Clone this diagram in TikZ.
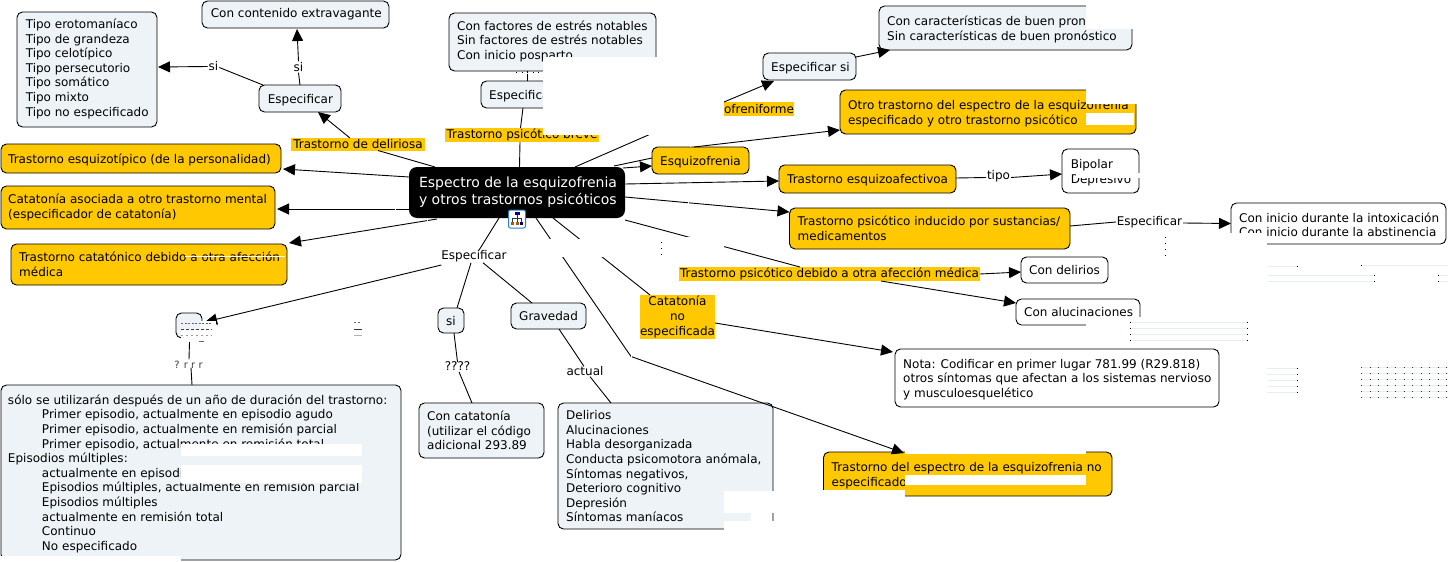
\documentclass[tikz,border=0pt]{standalone}
\usepackage{fontspec}
\setmainfont{DejaVu Sans}
\usetikzlibrary{arrows.meta}
\definecolor{pale}{HTML}{EDF3F6}
\definecolor{amber}{HTML}{FFC800}
\definecolor{faint}{HTML}{E8EEF0}
\newcommand{\maintxt}{\fontsize{12.0}{14.6}\selectfont}
\newcommand{\roottxt}{\fontsize{14.0}{17}\selectfont}
\def\padx{0.8}
\def\rz{-2.8}
% box with exact pixel corners; text starts about 8 px inside the left edge
\newcommand{\bx}[7][]{%
  \pgfmathsetmacro\bxw{#5-#3}\pgfmathsetmacro\bxh{#6-#4}\pgfmathsetmacro\bxt{\bxw-16}%
  \node[#2,anchor=north west,inner sep=0pt,outer sep=0pt,minimum width=\bxw pt,minimum height=\bxh pt] (#1) at (#3,#4)
    {\makebox[\bxt pt][l]{\hspace*{\padx pt}\raisebox{\rz pt}[0pt][0pt]{\begin{tabular}[c]{@{}l@{}}#7\end{tabular}}}};}
\newcommand{\hb}[6]{%
  \pgfmathsetmacro\bxw{#4-#2}\pgfmathsetmacro\bxh{#5-#3}%
  \node[hilite,anchor=north west,minimum width=\bxw pt,minimum height=\bxh pt] (#1) at (#2,#3) {#6};}
\newcommand{\ww}[4]{\fill[white] (#1,#2) rectangle (#3,#4);}
\tikzset{
  roundbox/.style={draw=black,line width=0.9pt,rounded corners=5.5pt},
  palebox/.style={roundbox,fill=pale},
  amberbox/.style={roundbox,fill=amber},
  whitebox/.style={roundbox,fill=white},
  rootbox/.style={rounded corners=8pt,fill=black,text=white,font=\roottxt},
  hilite/.style={fill=amber,inner sep=0pt,outer sep=0pt,align=center},
  onlink/.style={inner sep=0pt,outer sep=0pt},
  link/.style={line width=0.9pt,black},
  arr/.style={link,-{Triangle[length=12pt,width=11pt]}},
  every node/.style={font=\maintxt},
  tick/.style={white,line width=1pt},
  ghost/.style={faint,line width=0.9pt},
  speck/.style={black,line width=0.9pt,dash pattern=on 0.9pt off 5.1pt}
}
\begin{document}
\begin{tikzpicture}[x=1pt,y=-1pt]
\useasboundingbox (0,0) rectangle (1449,562);
\fill[white] (0,0) rectangle (1449,562);

% ---------- nodes
\bx[tipos]{palebox}{17}{12}{157}{127}{Tipo erotomaníaco\\Tipo de grandeza\\Tipo celotípico\\Tipo persecutorio\\Tipo somático\\Tipo mixto\\Tipo no especificado}
\bx[ext]{palebox}{202}{1}{389}{28}{Con contenido extravagante}
\def\rz{-4.8}
\bx[espL]{palebox}{259}{85}{341}{112}{Especificar}
\def\padx{-0.8}
\bx[zt]{amberbox}{1}{144}{281}{173}{Trastorno esquizotípico (de la personalidad)}
\def\rz{-3.8}
\bx[catA]{amberbox}{1}{186}{275}{229}{Catatonía asociada a otro trastorno mental\\(especificador de catatonía)}
\def\rz{-4.8}
\def\padx{0.2}
\bx[catB]{amberbox}{11}{244}{287}{285}{Trastorno catatónico debido a otra afección\\médica}
\def\padx{2}
\def\rz{-3.5}
\bx[root]{rootbox}{409}{167}{625}{218}{\textcolor{white}{Espectro de la esquizofrenia}\\\textcolor{white}{y otros trastornos psicóticos}}
\def\rz{-2.8}
\def\padx{0.2}
\bx[cfac]{palebox}{449}{13}{656}{71}{Con factores de estrés notables\\Sin factores de estrés notables\\Con inicio posparto}
\def\rz{-4.8}
\bx[espM]{palebox}{481}{81}{563}{108}{Especificar}
\bx[espSi]{palebox}{763}{53}{856}{80}{Especificar si}
\bx[ccar]{palebox}{879}{6}{1132}{50}{Con características de buen pron\\Sin características de buen pronóstico}
\bx[otro]{amberbox}{840}{90}{1136}{134}{Otro trastorno del espectro de la esquizofrenia\\especificado y otro trastorno psicótico}
\bx[esq]{amberbox}{652}{147}{749}{174}{Esquizofrenia}
\bx[afec]{amberbox}{779}{165}{956}{193}{Trastorno esquizoafectivoa}
\def\padx{0.8}
\bx[bip]{whitebox}{1062}{149}{1139}{193}{Bipolar\\Depresivo}
\def\padx{0.2}
\bx[ind]{amberbox}{789.5}{208}{1070}{249}{Trastorno psicótico inducido por sustancias/\\medicamentos}
\def\rz{-6}
\bx[conin]{whitebox}{1231}{203}{1446}{244}{Con inicio durante la intoxicación\\Con inicio durante la abstinencia}
\def\rz{-4.8}
\bx[condel]{whitebox}{1021}{257}{1108}{283}{Con delirios}
\bx[conal]{whitebox}{1016}{299}{1140}{325}{Con alucinaciones}
\bx[nota]{whitebox}{895}{349}{1219}{407}{Nota: Codificar en primer lugar 781.99 (R29.818)\\otros síntomas que afectan a los sistemas nervioso\\y musculoesquelético}
\bx[lno]{amberbox}{823.5}{452}{1112}{496}{Trastorno del espectro de la esquizofrenia no\\especificado}
\bx[delir]{palebox}{558}{403}{773}{529}{Delirios\\Alucinaciones\\Habla desorganizada\\Conducta psicomotora anómala,\\Síntomas negativos,\\Deterioro cognitivo\\Depresión\\Síntomas maníacos}
\bx[grav]{palebox}{511}{303}{586}{329}{Gravedad}
\bx[si3]{palebox}{438}{308}{464}{333}{si}
\bx[ccat]{palebox}{419}{403}{544}{458}{Con catatonía\\(utilizar el código\\adicional 293.89}
\bx[small]{palebox}{176}{313}{202}{338}{}
\def\padx{-1}
\bx[big]{palebox}{1}{385}{401}{560}{sólo se utilizarán después de un año de duración del trastorno:\\
\hspace*{34pt}Primer episodio, actualmente en episodio agudo\\
\hspace*{34pt}Primer episodio, actualmente en remisión parcial\\
\hspace*{34pt}Primer episodio, actualmente en remisión total\\
Episodios múltiples:\\
\hspace*{34pt}actualmente en episodi\\
\hspace*{34pt}Episodios múltiples, actualmente en remisión parcial\\
\hspace*{34pt}Episodios múltiples\\
\hspace*{34pt}actualmente en remisión total\\
\hspace*{34pt}Continuo\\
\hspace*{34pt}No especificado}

\hb{ldel}{291}{138}{425}{150.5}{Trastorno de deliriosa}
\hb{lbrev}{445}{128}{599}{142}{Trastorno psicótico breve}
\hb{lesq}{724}{102}{794}{116}{ofreniforme}
\hb{lpsi}{679}{267}{980}{281}{Trastorno psicótico debido a otra afección médica}
\node[hilite,anchor=north west,minimum width=75pt,minimum height=44pt] (lcat) at (640,295) {Catatonía\\no\\especificada};

\node[onlink] (si1) at (213.5,66.5) {si};
\node[onlink] (si2) at (298.5,67) {si};
\node[onlink] (ltipo) at (998.5,176.5) {tipo};
\node[onlink] (lesp2) at (1149.5,222) {Especificar};
\node[onlink] (lesp3) at (474,256) {Especificar};
\node[onlink] (lq) at (457.5,366.5) {????};
\node[onlink] (lact) at (585,371) {actual};
\node[onlink,text=black!75,font=\fontsize{10}{12}\selectfont] (lr) at (188.5,365) {? r r r};
\coordinate (kink) at (631,356.5);

% ---------- connectors
\draw[link] ([shift={(-82,0)}]root.north) -- ([shift={(20,0)}]ldel.south);
\draw[arr] ([shift={(-8,0)}]ldel.north) -- ([shift={(18,0)}]espL.south);
\draw[link] ([shift={(-37,0)}]espL.north) -- ([shift={(1,1)}]si1.east);
\draw[arr] ([shift={(-1,0)}]si1.west) -- ([shift={(1,-2.5)}]tipos.east);
\draw[link] (espL.north) -- ([shift={(0,1)}]si2.south);
\draw[arr] ([shift={(0,-1)}]si2.north) -- ([shift={(1.5,1)}]ext.south);
\draw[arr] ([shift={(0,-15.5)}]root.west) -- ([shift={(2,10.5)}]zt.east);
\draw[arr] ([shift={(0,16.5)}]root.west) -- ([shift={(2,1.5)}]catA.east);
\draw[arr] ([shift={(-80,1)}]root.south) -- ([shift={(2,-21.5)}]catB.east);
\draw[link] ([shift={(2.5,0)}]root.north) -- ([shift={(-2,0)}]lbrev.south);
\draw[link] ([shift={(-1.5,0)}]lbrev.north) -- ([shift={(1,0)}]espM.south);
\draw[link] ([shift={(5.5,0)}]espM.north) -- ([shift={(-25,0)}]cfac.south);
\draw[link] ([shift={(58,0)}]root.north) -- ([shift={(0,-7)}]lesq.west);
\draw[arr] ([shift={(0,-7)}]lesq.west) -- ([shift={(-35.5,1)}]espSi.south);
\draw[arr] ([shift={(0,-9.5)}]espSi.east) -- ([shift={(-115.5,0)}]ccar.south);
\draw[arr] ([shift={(106,1)}]root.north) -- ([shift={(0,5.5)}]esq.west);
\draw[link] ([shift={(97,-1)}]root.north) -- ([shift={(0,-2.5)}]esq.west);
\draw[arr] ([shift={(-6.5,0)}]esq.north) -- ([shift={(0,18)}]otro.west);
\draw[arr] ([shift={(0,-8.5)}]root.east) -- ([shift={(0,2)}]afec.west);
\draw[arr] ([shift={(0,4.5)}]root.east) -- ([shift={(0,-16.5)}]ind.west);
\draw[link] ([shift={(0,-1)}]afec.east) -- ([shift={(-1,1)}]ltipo.west);
\draw[arr] ([shift={(1,1)}]ltipo.east) -- ([shift={(0,3)}]bip.west);
\draw[link] ([shift={(0,-2.5)}]ind.east) -- ([shift={(-1,0)}]lesp2.west);
\draw[arr] ([shift={(1,1)}]lesp2.east) -- (conin.west);
\draw[link] ([shift={(108,2)}]root.south) -- ([shift={(-29.5,0)}]lpsi.north);
\draw[arr] (lpsi.east) -- ([shift={(0,2)}]condel.west);
\draw[arr] ([shift={(51.5,0)}]lpsi.south) -- ([shift={(0,-9)}]conal.west);
\draw[link] ([shift={(36,0)}]root.south) -- ([shift={(-27.5,0)}]lcat.north);
\draw[arr] ([shift={(0,6)}]lcat.east) -- ([shift={(-2,-26)}]nota.west);
\draw[link] ([shift={(19,0)}]root.south) -- (kink);
\draw[arr] (kink) -- ([shift={(-63.75,1)}]lno.north);
\draw[link] ([shift={(-18,0)}]root.south) -- ([shift={(5,0)}]lesp3.north);
\draw[link] ([shift={(9,1)}]lesp3.south) -- ([shift={(-16.5,0)}]grav.north);
\draw[link] ([shift={(-3,1)}]lesp3.south) -- ([shift={(6,0)}]si3.north);
\draw[arr] ([shift={(0,9)}]lesp3.west) -- ([shift={(3,-3.5)}]small.east);
\draw[link] ([shift={(3,0)}]si3.south) -- (lq.north);
\draw[link] ([shift={(1.5,1)}]lq.south) -- ([shift={(-9.5,0)}]ccat.north);
\draw[link] ([shift={(10.5,0)}]grav.south) -- ([shift={(-1,0)}]lact.north);
\draw[link] ([shift={(5,1)}]lact.south) -- ([shift={(-54.5,0)}]delir.north);
\draw[link] ([shift={(0.5,4)}]small.south) -- ([shift={(0.5,-2)}]lr.north);
\draw[link] ([shift={(2.5,-1)}]lr.south) -- ([shift={(-9,0)}]big.north);

% ---------- erased parts of the picture
\ww{543}{57}{723.5}{135}
\ww{540}{238.5}{610}{257}
\ww{680}{237}{723.5}{249}
\ww{1086}{3}{1142}{29}
\ww{1086}{88}{1140}{104}
\ww{1086}{113}{1134}{125}
\ww{1076}{172.5}{1142}{178}
\ww{1160}{233}{1266.5}{262}
\ww{1086}{317}{1145}{330}
\ww{181}{444}{362}{456}
\ww{181}{465}{362}{483}
\ww{0}{556}{181}{562}
\ww{724}{491}{776}{513}
\ww{751}{513}{772}{521}
\ww{724}{521}{780}{532}
\ww{905}{448}{1086}{453.5}
\ww{905}{474.5}{1086}{484.5}
\ww{820}{490}{905}{500}
\ww{525}{71.5}{542}{74}
\ww{181}{321}{216}{342}
\fill[pale] (181,321) rectangle (200,330);
\draw[white,line width=0.9pt] (185,256.5) -- (285,256.5);
\draw[tick] (395,203) -- (395,217);
\draw[tick] (427,220) -- (427,230);
\draw[tick] (690,140) -- (690,147);
\draw[tick] (688,195) -- (688,205);
\draw[tick] (631,352) -- (631,363);

% ---------- small remnants
\draw[speck,dash pattern=on 1pt off 4.5pt] (516,72.5) -- (540,72.5);
\draw[black!60,line width=0.9pt,dash pattern=on 2pt off 1.5pt] (181,323) -- (212,323);
\draw[black!75,line width=0.9pt,dash pattern=on 3pt off 2pt] (181,329) -- (212,329);
\draw[black!40,line width=0.9pt,dash pattern=on 2pt off 3pt] (181,335) -- (212,335);
\draw[black!60,line width=0.9pt] (199,341) -- (204,341);
\draw[black!60,line width=0.9pt,dash pattern=on 2pt off 2pt] (354,322) -- (362,322);
\draw[black!80,line width=0.9pt] (354,329) -- (362,329);
\draw[black!30,line width=0.9pt] (354,335) -- (362,335);
\draw[speck] (661,242) -- (661,256);
\draw[speck] (1165,237) -- (1165,257);
\foreach \yy in {322,328,334,340}{
  \draw[ghost] (1130,\yy) -- (1247,\yy);
  \fill[black] (1129.5,\yy-0.5) rectangle +(1,1);
  \fill[black] (1247,\yy-0.5) rectangle +(1,1);}
\draw[ghost] (1267,266.5) -- (1297,266.5);
\fill[black] (1297,266) rectangle +(1,1);
\foreach \yy in {275.5,281.5}{
  \draw[ghost] (1267,\yy) -- (1374,\yy);
  \fill[black] (1374,\yy-0.5) rectangle +(1,1);
  \draw[ghost] (1439,\yy) -- (1448,\yy);
  \fill[black] (1438,\yy-0.5) rectangle +(1,1);}
\draw[ghost] (1361,265.5) -- (1448,265.5);
\fill[black] (1361,265) rectangle +(1,1);
\foreach \yy in {368.5,374.5,380.5,386.5,392.5}{
  \draw[ghost] (1267,\yy) -- (1297,\yy);
  \fill[black] (1297,\yy-0.5) rectangle +(1,1);}
\foreach \yy in {367.5,373.5,379.5,385.5,391.5,397.5}{
  \draw[ghost] (1361,\yy) -- (1448,\yy);
  \draw[black!80,line width=0.9pt,dash pattern=on 1pt off 7.5pt] (1361,\yy) -- (1448,\yy);}

% ---------- icon on the root node
\node[draw={rgb,255:red,42;green,127;blue,213},fill=white,line width=1pt,rounded corners=2pt,minimum width=17pt,minimum height=18pt,inner sep=0pt] (icon) at (517,219) {};
\draw[black!80,line width=0.6pt] (517,214) -- (517,218) (512.5,222) -- (512.5,218) -- (521.5,218) -- (521.5,222) (517,218) -- (517,222);
\fill[blue!50!black] (514.5,212) rectangle (519.5,215);
\fill[orange!70!black] (511,222) rectangle (514,225);
\fill[orange!70!black] (515.5,222) rectangle (518.5,225);
\fill[blue!50!black] (520,222) rectangle (523,225);
\end{tikzpicture}
\end{document}
